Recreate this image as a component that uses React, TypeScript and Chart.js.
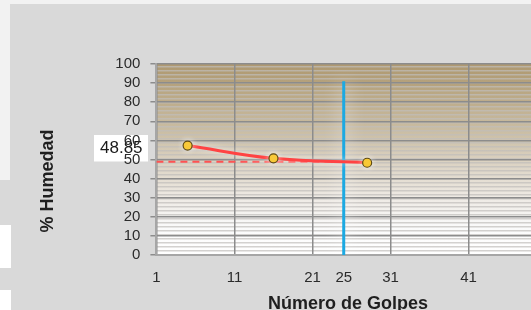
import React, { useEffect, useRef } from "react";
import { Chart, registerables } from "chart.js";

Chart.register(...registerables);

// ---- data ----
const blows = [5, 16, 28];
const moisture = [57.3, 50.6, 48.3];
const targetBlows = 25;
const liquidLimit = 48.85;
const liquidLimitLabel = "48.85";
const verticalTop = 91;
const xTickValues = [1, 11, 21, 25, 31, 41, 51];
const xMin = 1;
const xMax = 51;
const yMin = 0;
const yMax = 100;
const yStep = 10;
const xTitle = "Número de Golpes";
const yTitle = "% Humedad";

const FONT = "'Liberation Sans', Arial, sans-serif";

const backgroundPlugin = {
  id: "bgPlugin",
  beforeDraw(chart: any) {
    const { ctx, width, height, chartArea } = chart;
    const { left, top, right, bottom } = chartArea;
    ctx.save();
    ctx.fillStyle = "#f2f2f2";
    ctx.fillRect(0, 0, width, height);
    ctx.fillStyle = "#d9d9d9";
    ctx.fillRect(10, 4, width - 10, height - 4);
    // left strip patches
    ctx.fillStyle = "#d9d9d9";
    ctx.fillRect(0, 180, 10, 45);
    ctx.fillStyle = "#ffffff";
    ctx.fillRect(0, 225, 11, 43);
    ctx.fillStyle = "#d9d9d9";
    ctx.fillRect(0, 268, 11, 22);
    ctx.fillStyle = "#ffffff";
    ctx.fillRect(0, 290, 11, 20);

    // plot area texture
    const g = ctx.createLinearGradient(0, top, 0, bottom);
    g.addColorStop(0, "#ae9870");
    g.addColorStop(0.12, "#b7a47f");
    g.addColorStop(0.35, "#cabda3");
    g.addColorStop(0.52, "#dcd3c3");
    g.addColorStop(0.7, "#eeeae4");
    g.addColorStop(0.86, "#fbfbfb");
    g.addColorStop(1, "#ffffff");
    ctx.fillStyle = g;
    ctx.fillRect(left, top, right - left, bottom - top);
    ctx.fillStyle = "rgba(192,190,186,0.7)";
    for (let y = top + 2; y < bottom; y += 4) {
      ctx.fillRect(left, y, right - left, 1.5);
    }

    // value label box
    ctx.fillStyle = "#ffffff";
    ctx.fillRect(94, 135, 54, 26.5);
    ctx.fillStyle = "#1a1a1a";
    ctx.font = `17px ${FONT}`;
    ctx.textAlign = "left";
    ctx.textBaseline = "middle";
    ctx.fillText(liquidLimitLabel, 100, 148.5);
    ctx.restore();
  },
  beforeDatasetDraw(chart: any, args: any) {
    const ctx = chart.ctx;
    ctx.save();
    if (args.index === 1) {
      ctx.shadowColor = "rgba(255,255,255,1)";
      ctx.shadowBlur = 18;
    } else if (args.index === 0) {
      ctx.shadowColor = "rgba(255,255,255,0.7)";
      ctx.shadowBlur = 6;
    }
  },
  afterDatasetDraw(chart: any) {
    chart.ctx.restore();
  },
  afterDraw(chart: any) {
    const { ctx } = chart;
    ctx.save();
    ctx.fillStyle = "#1f1f1f";
    ctx.font = `bold 18px ${FONT}`;
    ctx.textAlign = "center";
    ctx.textBaseline = "alphabetic";
    ctx.fillText(xTitle, 348, 309);
    ctx.translate(53, 181);
    ctx.rotate(-Math.PI / 2);
    ctx.fillText(yTitle, 0, 0);
    ctx.restore();
  },
};

export default function App() {
  const ref = useRef<HTMLCanvasElement | null>(null);
  useEffect(() => {
    if (!ref.current) return;
    const chart = new Chart(ref.current, {
      type: "scatter",
      data: {
        datasets: [
          {
            data: blows.map((b, i) => ({ x: b, y: moisture[i] })),
            showLine: true,
            tension: 0.4,
            borderColor: "#ff4343",
            borderWidth: 3,
            pointRadius: 4.5,
            pointBackgroundColor: "#f7c21d",
            pointBorderColor: "#5e4a14",
            pointBorderWidth: 1.2,
          },
          {
            data: [
              { x: targetBlows, y: 0 },
              { x: targetBlows, y: verticalTop },
            ],
            showLine: true,
            borderColor: "#1ca9e2",
            borderWidth: 3,
            pointRadius: 0,
          },
          {
            data: [
              { x: xMin, y: liquidLimit },
              { x: targetBlows, y: liquidLimit },
            ],
            showLine: true,
            borderColor: "#ff5252",
            borderWidth: 2,
            borderDash: [7, 5],
            pointRadius: 0,
          },
        ],
      },
      options: {
        animation: false,
        responsive: false,
        devicePixelRatio: 1,
        layout: { padding: { left: 0, top: 64, right: 12, bottom: 0 } },
        plugins: {
          legend: { display: false },
          tooltip: { enabled: false },
        },
        scales: {
          x: {
            type: "linear",
            min: xMin,
            max: xMax,
            afterBuildTicks: (scale: any) => {
              scale.ticks = xTickValues.map((v) => ({ value: v }));
            },
            afterFit: (scale: any) => {
              scale.height = 55;
            },
            grid: {
              color: (c: any) => (c.tick && c.tick.value === targetBlows ? "rgba(0,0,0,0)" : "#8c8c8c"),
              lineWidth: 1.5,
              drawTicks: false,
            },
            border: { color: "#a6a6a6", width: 2 },
            ticks: {
              color: "#2b2b2b",
              font: { family: FONT, size: 15 },
              padding: 14,
              maxRotation: 0,
              autoSkip: false,
              callback: (v: any) => String(v),
            },
          },
          y: {
            type: "linear",
            min: yMin,
            max: yMax,
            afterFit: (scale: any) => {
              scale.width = 156.4;
            },
            grid: {
              color: "#8c8c8c",
              lineWidth: 1.5,
              tickLength: 6,
              tickColor: "#8c8c8c",
            },
            border: { color: "#a6a6a6", width: 2 },
            ticks: {
              stepSize: yStep,
              autoSkip: false,
              color: "#2b2b2b",
              font: { family: FONT, size: 15 },
              padding: 10,
            },
          },
        },
      },
      plugins: [backgroundPlugin],
    });
    return () => chart.destroy();
  }, []);
  return (
    <div
      style={{
        position: "fixed",
        left: 0,
        top: 0,
        width: 531,
        height: 310,
        overflow: "hidden",
      }}
    >
      <canvas ref={ref} width={569} height={310} style={{ display: "block", width: 569, height: 310 }} />
    </div>
  );
}
